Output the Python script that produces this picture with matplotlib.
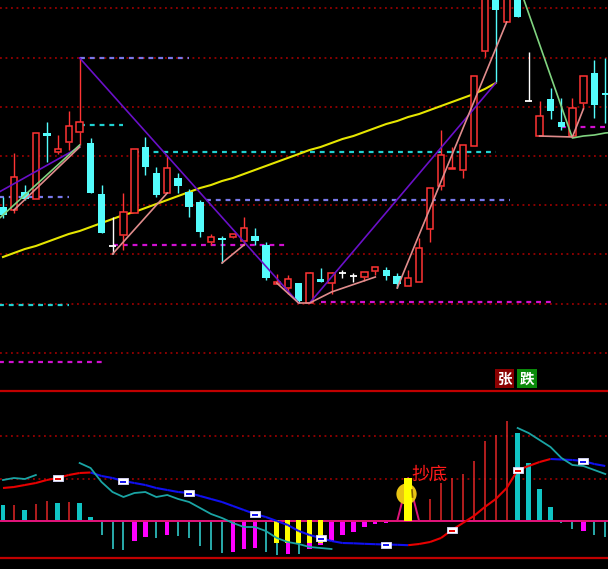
import numpy as np
import matplotlib
matplotlib.use('Agg')
import matplotlib.pyplot as plt
from matplotlib.patches import Rectangle, Ellipse
from matplotlib.path import Path

plt.rcParams['font.family'] = ['Noto Sans CJK SC', 'DejaVu Sans']

# ---------------- data ----------------
opens  = [19.3, 19.0, 20.8, 20.1, 26.7, 24.8, 25.8, 26.8, 25.7, 20.6,
          15.4, 16.5, 18.7, 25.3, 22.7, 20.7, 22.2, 20.8, 19.8, 15.8,
          16.1, 16.3, 15.9, 16.4, 15.5, 11.6, 11.2, 11.7, 9.7, 12.1,
          11.7, 12.7, 12.4, 12.3, 12.9, 13.0, 12.4, 11.4, 11.8, 17.1,
          21.4, 23.1, 23.0, 25.4, 34.9, 41.5, 37.8, 42.0, 29.9, 26.4,
          30.1, 27.8, 26.4, 29.7, 32.7, 30.6]
highs  = [20.3, 24.7, 21.5, 26.7, 27.8, 26.5, 28.9, 34.2, 26.2, 21.5,
          18.3, 20.7, 25.1, 26.3, 23.3, 24.5, 22.7, 21.1, 20.0, 16.6,
          16.4, 16.6, 18.3, 17.2, 15.8, 12.6, 12.5, 11.7, 12.8, 13.2,
          12.8, 13.0, 12.7, 12.8, 13.3, 13.3, 12.7, 13.0, 16.2, 21.2,
          27.0, 25.3, 25.5, 32.4, 43.0, 42.0, 42.0, 43.0, 34.8, 29.9,
          31.2, 30.2, 30.2, 32.4, 34.0, 34.2]
lows   = [18.2, 18.7, 20.0, 20.1, 23.8, 24.6, 25.0, 25.5, 20.7, 16.7,
          14.6, 15.0, 18.7, 22.5, 20.3, 20.7, 20.7, 18.3, 16.3, 15.5,
          13.7, 16.2, 15.5, 15.5, 12.0, 11.6, 10.6, 9.7, 9.7, 11.8,
          10.6, 12.2, 11.8, 11.9, 12.5, 12.0, 11.2, 11.4, 11.8, 15.8,
          21.0, 23.1, 22.2, 25.4, 34.3, 31.8, 37.8, 38.3, 29.9, 26.4,
          28.1, 27.0, 26.4, 29.1, 28.2, 27.7]
closes = [18.5, 22.3, 20.1, 26.7, 26.4, 25.1, 27.4, 27.8, 20.7, 16.7,
          15.4, 18.8, 25.1, 23.3, 20.5, 23.2, 21.4, 19.3, 16.8, 16.3,
          16.05, 16.6, 17.2, 15.9, 12.2, 11.8, 12.1, 9.9, 12.7, 11.8,
          12.7, 12.7, 12.4, 12.8, 13.3, 12.4, 11.6, 12.2, 15.2, 21.2,
          24.5, 23.2, 25.5, 32.4, 42.0, 39.0, 42.0, 38.3, 29.9, 28.4,
          28.9, 27.3, 29.2, 32.4, 29.5, 30.55]

ma_line = [14.3, 14.7, 15.1, 15.4, 15.8, 16.2, 16.6, 16.9, 17.3, 17.7,
           18.1, 18.5, 18.8, 19.2, 19.6, 20.0, 20.4, 20.8, 21.2, 21.5,
           21.9, 22.2, 22.6, 23.0, 23.4, 23.8, 24.2, 24.6, 25.0, 25.3,
           25.7, 26.1, 26.4, 26.8, 27.2, 27.6, 27.9, 28.3, 28.6, 29.0,
           29.4, 29.8, 30.2, 30.6, 31.1, 31.7]

grid_prices = [39.2, 34.2, 29.3, 24.4, 19.5, 14.6, 9.6, 4.7]

purple_segs = [([-1, 7], [20.4, 25.3]),
               ([7, 27], [34.2, 9.7]),
               ([28, 45], [9.7, 31.7])]
pink_segs = [([1, 7], [19.0, 25.3]),
             ([10, 15], [14.6, 20.7]),
             ([20, 22], [13.7, 15.5]),
             ([25, 27, 28, 30, 34], [11.7, 9.7, 9.7, 10.8, 12.3]),
             ([36, 46], [11.2, 37.8]),
             ([49, 52, 53], [26.4, 26.3, 29.1])]
green_segs = [([-1, 7], [17.5, 25.5]),
              ([47, 52, 53, 54, 55, 56], [41.8, 26.2, 26.4, 26.5, 26.7, 26.8])]

cyan_levels = [(7, 11, 27.5), (12, 45, 24.8), (-1, 6, 9.5)]
lavender_levels = [(7, 17, 34.2), (-1, 6, 20.3), (18.5, 46.3, 20.0)]
magenta_levels = [(10, 26, 15.5), (29, 50, 9.8), (-1, 9.1, 3.8), (51, 56, 27.3)]

# lower indicator panel
hist_values = [16, 16.5, 11, 17, 20, 18, 19, 18.5, 4, -14,
               -28, -29, -20, -16, -17, -14, -15, -17, -25, -29,
               -32, -31, -28, -27, -31, -34, -33, -33, -28, -24,
               -20, -14, -11, -6, -3, -2, 0, 0, 0, 22,
               38, 43, 47, 60, 80, 86, 100, 88, 58, 32,
               14, -2, -8, -10, -14, -16]
hist_state = ("CRCRRCRCC" + "ccc" + "MM" + "c" + "M" + "ccccc" + "MMM" + "cc" + "M" + "c"
              + "MMMMMMMM" + "---" + "RRRRRRRR" + "CCCC" + "cc" + "M" + "cc")

line1 = [33, 34, 36, 38, 41, 43, 46, 48, 48.5, 45,
         43, 40, 38, 36, 33, 31, 29, 28, 25, 22,
         19, 15, 11, 7, 4, 0, -4, -10, -14, -17,
         -20, -22, -22.3, -22.8, -23.2, -23.5, -23.8, -24.2, -23, -21,
         -17, -9, -2, 5, 14, 22, 33, 51, 55, 59,
         62, 61.5, 61, 60, 57, 55]
nan = np.nan
line2 = [41, 43, 42, 46, nan, nan, nan, 58, 53, 39,
         29, 24, 28, 29, 24, 26, 22, 19, 13, 7,
         3, -2, -6, -6, -10, -17, -21, -23, -26, -27,
         -28, nan, nan, nan, nan, nan, nan, nan, nan, nan,
         nan, nan, nan, nan, nan, nan, nan, 93, 88, 81,
         74, 63, 56, 55, 51, 47]
signal_line = [0, 0, 0, 0, 0, 0, 0, 0, 0, 0,
               0, 0, 0, 0, 0, 0, 0, 0, 0, 0,
               0, 0, 0, 0, 0, 0, 0, 0, 0, 0,
               0, 0, 0, 0, 0, 0, 0, 43, 0, 0,
               0, 0, 0, 0, 0, 0, 0, 0, 0, 0,
               0, 0, 0, 0, 0, 0]
yellow_idx = [25, 26, 27, 28, 29]
yellow_top, yellow_bottom = 1, -22
signal_idx, signal_top = 37, 43
lower_grid = [42, 85]
panel_lines = [130, -37]

# ---------------- figure ----------------
W, H = 608, 569
fig = plt.figure(figsize=(W / 100, H / 100), dpi=100, facecolor='black')
ax = fig.add_axes([0, 1 - 389 / H, 1, 389 / H])
ax2 = fig.add_axes([0, 0, 1, 180 / H])
for a in (ax, ax2):
    a.set_facecolor('black')
    a.set_xlim(-0.274, 55.25)
    a.axis('off')
ax.set_ylim(1.1, 40.0)
ax2.set_ylim(-48, 132)

RED = '#ff3434'
CYAN = '#54fcfc'

# gridlines
for g in grid_prices:
    ax.axhline(g, color='#b00000', lw=1.1, ls=(0, (1.2, 2.4)), zorder=0)

# dashed levels
def levels(lst, color):
    for x0, x1, p in lst:
        ax.plot([x0, x1], [p, p], color=color, lw=1.6, ls=(0, (2.2, 2.2)), zorder=1)
levels(cyan_levels, '#20d0d0')
levels(lavender_levels, '#7878e8')
levels(magenta_levels, '#d010d0')

# moving average
ax.plot(range(len(ma_line)), ma_line, color='#e6e600', lw=1.5, zorder=2)

# candles
bw_hollow, bw_fill = 0.58, 0.68
for i, (o, h, l, c) in enumerate(zip(opens, highs, lows, closes)):
    if c > o:
        ax.vlines(i, c, h, color=RED, lw=1.0, zorder=3)
        ax.vlines(i, l, o, color=RED, lw=1.0, zorder=3)
        ax.add_patch(Rectangle((i - bw_hollow / 2, o), bw_hollow, c - o,
                               facecolor='black', edgecolor=RED, lw=1.1, zorder=3))
    elif c < o:
        ax.vlines(i, l, h, color=CYAN, lw=1.0, zorder=3)
        ax.add_patch(Rectangle((i - bw_fill / 2, c), bw_fill, max(o - c, 0.12),
                               facecolor=CYAN, edgecolor='none', zorder=3))
    else:
        ax.vlines(i, l, h, color='white', lw=1.0, zorder=3)
        ax.hlines(o, i - bw_fill / 2, i + bw_fill / 2, color='white', lw=1.3, zorder=3)

# trend lines
for xs, ys in purple_segs:
    ax.plot(xs, ys, color='#6a10c8', lw=1.2, zorder=4)
for xs, ys in green_segs:
    ax.plot(xs, ys, color='#80d480', lw=1.2, zorder=4)
for xs, ys in pink_segs:
    ax.plot(xs, ys, color='#e08c8c', lw=1.2, zorder=4)

# 张 / 跌 buttons
def fx(x):
    return x / W
def fy(y):
    return 1 - y / H
for txt, x0, x1, bg in [('张', 495, 514, '#8a0000'), ('跌', 517, 537, '#0a8a0a')]:
    fig.add_artist(Rectangle((fx(x0), fy(388)), fx(x1) - fx(x0), fy(369) - fy(388),
                             transform=fig.transFigure, facecolor=bg, edgecolor='none'))
    fig.text(fx((x0 + x1) / 2), fy(378.5), txt, color='white', fontsize=10.5,
             fontweight='bold', ha='center', va='center')

# ---------------- lower panel ----------------
for v in lower_grid:
    ax2.axhline(v, color='#b00000', lw=1.1, ls=(0, (1.2, 2.4)), zorder=0)
for v in panel_lines:
    ax2.axhline(v, color='#c00000', lw=1.6, zorder=1)

for i, (v, s) in enumerate(zip(hist_values, hist_state)):
    if s == 'R':
        ax2.vlines(i, 0, v, color='#d02424', lw=1.2, zorder=2)
    elif s == 'c':
        ax2.vlines(i, 0, v, color='#30c8c8', lw=1.2, zorder=2)
    elif s == 'C':
        ax2.bar(i, v, width=0.44, color='#10c4c4', zorder=2)
    elif s == 'M':
        ax2.bar(i, v, width=0.4, color='#ff00ff', zorder=2)

# zero / signal line
ax2.axhline(0, color='#e0147a', lw=1.4, zorder=3)
ax2.plot(range(len(signal_line)), signal_line, color='#e0147a', lw=1.4, zorder=3)

# yellow bars
ax2.bar(yellow_idx, yellow_bottom - yellow_top, bottom=yellow_top, width=0.44,
        color='#ffff00', zorder=4)
ax2.add_patch(Ellipse((signal_idx - 0.15, 27), 1.85, 21, facecolor='#e8c414',
                      edgecolor='none', zorder=4))
ax2.bar(signal_idx, signal_top, width=0.72, color='#ffff00', zorder=5)
ax2.plot([signal_idx + 0.35, signal_idx + 0.4], [31, 24], color='#806000', lw=1.2, zorder=6)
ax2.text(signal_idx + 0.3, 46, '抄底', color='#ff1a1a', fontsize=13, ha='left',
         va='center', zorder=6)

# line 1 (red rising / blue falling)
for i in range(len(line1) - 1):
    col = '#e80000' if line1[i + 1] >= line1[i] else '#1010f0'
    ax2.plot([i, i + 1], [line1[i], line1[i + 1]], color=col, lw=1.5, zorder=7,
             solid_capstyle='butt')
# line 2 (teal)
ax2.plot(range(len(line2)), line2, color='#1aa4a4', lw=1.3, zorder=7)

# markers every 6 bars
box = Path([(-1, -0.55), (1, -0.55), (1, 0.55), (-1, 0.55), (-1, -0.55)])
for i in range(5, len(line1), 6):
    col = '#e80000' if (i + 1 < len(line1) and line1[i + 1] >= line1[i]) else '#1010f0'
    ax2.plot(i, line1[i], marker=box, ms=7.5, mfc='white', mec='#d8d8ff', mew=0.6, zorder=8)
    ax2.plot(i, line1[i] - 0.5, marker='_', ms=5, mec=col, mew=1.4, zorder=9)

fig.savefig('out.png', dpi=100, facecolor='black')
